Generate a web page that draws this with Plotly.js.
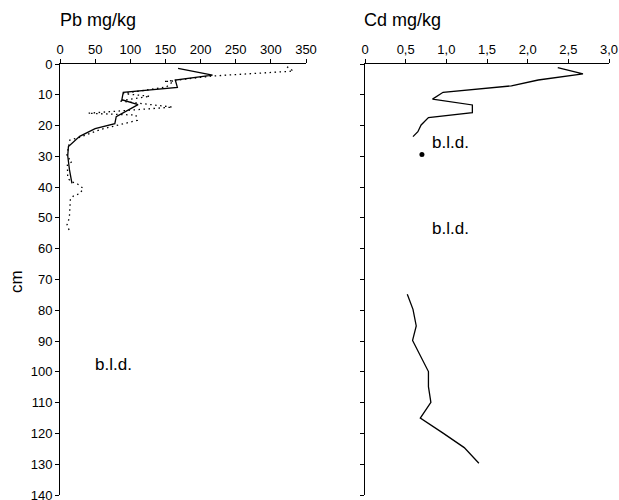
<!DOCTYPE html>
<html>
<head>
<meta charset="utf-8">
<script src="https://cdn.plot.ly/plotly-3.0.1.min.js"></script>
<style>html,body{margin:0;padding:0;background:#fff;}#chart{width:619px;height:500px;}</style>
</head>
<body>
<div id="chart"></div>
<script>
// Pb, solid profile
const pbSolidDepth = [1.4, 3.6, 5.2, 7.6, 9.2, 11.6, 13.2, 17.1, 19.4, 21.0, 23.5, 26.8, 29.8, 34.4, 38.8];
const pbSolid      = [168, 217, 164, 167, 90, 88, 111, 80, 78, 50, 28, 12, 11, 13.5, 17];
// Pb, dotted profile
const pbDotDepth = [0.9, 2.3, 3.9, 5.7, 5.5, 7.5, 9.6, 10.5, 12.0, 14.0, 16.0, 16.6, 18.3, 21.3, 23.8, 24.7, 30.0, 31.7, 32.8, 37.1, 38.2, 39.0, 40.4, 42.0, 42.9, 43.8, 45.8, 50.0, 52.2, 54.0];
const pbDotted   = [323, 332, 217, 148, 162, 151, 90, 128, 84, 160, 40, 108, 110, 57, 28, 14, 9.5, 17, 10.5, 11, 16, 25, 33, 28.6, 19, 14.8, 14.3, 13.3, 10, 13];
// Cd profile (gap = below limit of detection)
const cdDepth  = [1.2, 3.2, 5.2, 7.1, 9.2, 11.4, 13.3, 15.8, 17.4, 19.8, 22.0, 23.6, null, 74.8, 79.7, 85.1, 89.8, 99.9, 104.8, 109.9, 115.0, 119.9, 124.6, 129.7];
const cdValues = [2.37, 2.68, 2.13, 1.80, 0.96, 0.83, 1.32, 1.32, 0.78, 0.69, 0.65, 0.59, null, 0.52, 0.59, 0.63, 0.585, 0.78, 0.78, 0.81, 0.68, 0.96, 1.22, 1.40];
// single Cd measurement
const cdPointDepth = [29.4];
const cdPoint      = [0.70];
// ticks
const pbTicks = [0, 50, 100, 150, 200, 250, 300, 350];
const cdTickVals = [0, 0.5, 1.0, 1.5, 2.0, 2.5, 3.0];
const cdTickText = ["0", "0,5", "1,0", "1,5", "2,0", "2,5", "3,0"];
const depthTicks = [0, 10, 20, 30, 40, 50, 60, 70, 80, 90, 100, 110, 120, 130, 140];

const W = 619, H = 500;
const font = {family: "Liberation Sans, Arial, sans-serif", color: "#000"};

const traces = [
  {x: pbSolid, y: pbSolidDepth, xaxis: "x", yaxis: "y", mode: "lines",
   line: {color: "#000", width: 1.3}, hoverinfo: "skip"},
  {x: pbDotted, y: pbDotDepth, xaxis: "x", yaxis: "y", mode: "lines",
   line: {color: "#000", width: 1.3, dash: "1.5px,3.5px"}, hoverinfo: "skip"},
  {x: cdValues, y: cdDepth, xaxis: "x2", yaxis: "y2", mode: "lines", connectgaps: false,
   line: {color: "#000", width: 1.3}, hoverinfo: "skip"},
  {x: cdPoint, y: cdPointDepth, xaxis: "x2", yaxis: "y2", mode: "markers",
   marker: {color: "#000", size: 5}, hoverinfo: "skip"}
];

const xcommon = {side: "top", showgrid: false, zeroline: false, showline: true, linecolor: "#000", linewidth: 1,
  ticks: "outside", ticklen: 4, tickcolor: "#000", tickfont: Object.assign({size: 13}, font), fixedrange: true,
  ticklabeloverflow: "allow"};
const ycommon = {range: [140, 0], showgrid: false, zeroline: false, showline: true, linecolor: "#000", linewidth: 1,
  ticks: "outside", ticklen: 4, tickcolor: "#000", tickvals: depthTicks, tickfont: Object.assign({size: 13}, font), fixedrange: true,
  ticklabeloverflow: "allow"};

const layout = {
  width: W, height: H,
  margin: {l: 0, r: 0, t: 0, b: 0},
  paper_bgcolor: "#fff", plot_bgcolor: "#fff",
  showlegend: false,
  font: font,
  xaxis: Object.assign({}, xcommon, {domain: [60 / W, 306 / W], range: [0, 350], tickvals: pbTicks, anchor: "y"}),
  yaxis: Object.assign({}, ycommon, {domain: [1 - 495 / H, 1 - 64 / H], anchor: "x"}),
  xaxis2: Object.assign({}, xcommon, {domain: [365 / W, 609 / W], range: [0, 3], tickvals: cdTickVals, ticktext: cdTickText, anchor: "y2"}),
  yaxis2: Object.assign({}, ycommon, {domain: [1 - 495 / H, 1 - 64 / H], anchor: "x2", showticklabels: false}),
  annotations: [
    {text: "Pb mg/kg", xref: "paper", yref: "paper", x: 58 / W, y: 1 - 20 / H, xanchor: "left", yanchor: "middle",
     showarrow: false, font: Object.assign({size: 18}, font)},
    {text: "Cd mg/kg", xref: "paper", yref: "paper", x: 362 / W, y: 1 - 20 / H, xanchor: "left", yanchor: "middle",
     showarrow: false, font: Object.assign({size: 18}, font)},
    {text: "cm", xref: "paper", yref: "paper", x: 16 / W, y: 1 - 282 / H, xanchor: "center", yanchor: "middle",
     textangle: -90, showarrow: false, font: Object.assign({size: 17}, font)},
    {text: "b.l.d.", xref: "x", yref: "y", x: 76, y: 97.5, xanchor: "center", yanchor: "middle",
     showarrow: false, font: Object.assign({size: 17}, font)},
    {text: "b.l.d.", xref: "x2", yref: "y2", x: 1.05, y: 25.4, xanchor: "center", yanchor: "middle",
     showarrow: false, font: Object.assign({size: 17}, font)},
    {text: "b.l.d.", xref: "x2", yref: "y2", x: 1.05, y: 53.3, xanchor: "center", yanchor: "middle",
     showarrow: false, font: Object.assign({size: 17}, font)}
  ]
};

Plotly.newPlot("chart", traces, layout, {displayModeBar: false, staticPlot: true});
</script>
</body>
</html>
